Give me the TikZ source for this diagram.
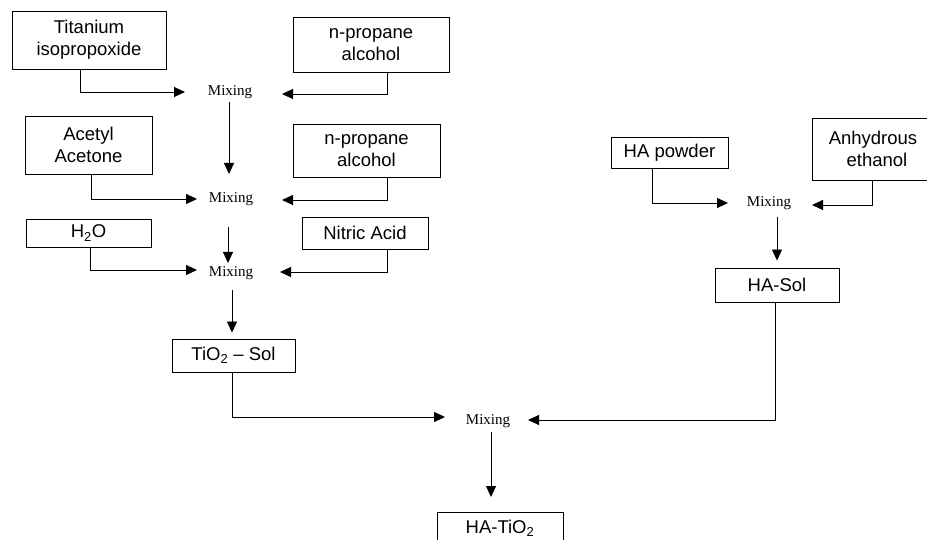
\documentclass[tikz,border=0pt]{standalone}
\usepackage{fontspec}
\setmainfont{Liberation Serif}
\newfontfamily\arialf[Ligatures=TeX]{Liberation Sans}
\usetikzlibrary{arrows.meta}
\tikzset{
  box/.style={draw, line width=0.9pt, inner sep=0pt, align=center,
    font=\arialf\fontsize{18.5}{21.7}\selectfont},
  mix/.style={inner sep=0pt, font=\fontsize{15}{18}\selectfont},
  arr/.style={line width=0.9pt, -{Triangle[length=11pt,width=10pt]}}
}
\begin{document}
\begin{tikzpicture}[x=1pt,y=-1pt]
\useasboundingbox (0,0) rectangle (927,540);
\clip (0,0) rectangle (927,540);
% boxes
\node[box, minimum width=154pt, minimum height=58pt] (ti) at (89,40) {Titanium\\isopropoxide};
\node[box, minimum width=156pt, minimum height=55pt] (np1) at (371,44.5) {n-propane\\alcohol};
\node[box, minimum width=127pt, minimum height=58pt] (aa) at (88.5,145) {Acetyl\\Acetone};
\node[box, minimum width=147pt, minimum height=53pt] (np2) at (366.5,150.5) {n-propane\\alcohol};
\node[box, minimum width=125pt, minimum height=28pt] (h2o) at (88.5,233) {H\textsubscript{2}O};
\node[box, minimum width=126pt, minimum height=32pt] (na) at (365,233) {Nitric Acid};
\node[box, minimum width=123pt, minimum height=33pt] (tio) at (233.5,355.5) {TiO\textsubscript{2} – Sol};
\node[box, minimum width=117pt, minimum height=31pt] (hap) at (669.5,152.5) {HA powder};
\node[box, minimum width=122pt, minimum height=62pt] (ae) at (873,149) {Anhydrous\\\hspace*{8pt}ethanol};
\node[box, minimum width=124pt, minimum height=34pt] (has) at (777,285) {HA-Sol};
\node[box, minimum width=126pt, text height=21pt, text depth=15pt, anchor=north] (hat) at (500,512) {HA-TiO\textsubscript{2}};
% mixing nodes
\node[mix] (m1) at (230,92) {Mixing};
\node[mix] (m2) at (231,199) {Mixing};
\node[mix] (m3) at (231,273) {Mixing};
\node[mix] (m4) at (488,421) {Mixing};
\node[mix] (m5) at (769,203) {Mixing};
% connectors
\draw[arr] ([xshift=-9pt]ti.south) |- ([xshift=-45pt]m1.center);
\draw[arr] ([xshift=16pt]np1.south) |- ([xshift=52pt,yshift=-2pt]m1.center);
\draw[arr] ([xshift=-1pt,yshift=-10pt]m1.center) -- ([xshift=-2pt,yshift=25pt]m2.center);
\draw[arr] ([xshift=2.5pt]aa.south) |- ([xshift=-34pt]m2.center);
\draw[arr] ([xshift=20.5pt]np2.south) |- ([xshift=51pt,yshift=-1pt]m2.center);
\draw[arr] ([xshift=-3pt,yshift=-28pt]m2.center) -- ([xshift=-3pt,yshift=10pt]m3.center);
\draw[arr] ([xshift=1.5pt]h2o.south) |- ([xshift=-34pt,yshift=3pt]m3.center);
\draw[arr] ([xshift=22pt]na.south) |- ([xshift=49pt,yshift=1pt]m3.center);
\draw[arr] ([xshift=1pt,yshift=-17pt]m3.center) -- ([xshift=-1.5pt,yshift=6pt]tio.north);
\draw[arr] ([xshift=-1.5pt]tio.south) |- ([xshift=-43pt,yshift=4pt]m4.center);
\draw[arr] ([xshift=-2pt]has.south) |- ([xshift=40pt,yshift=1pt]m4.center);
\draw[arr] ([xshift=3pt,yshift=-11pt]m4.center) -- ([xshift=-9pt,yshift=15pt]hat.north);
\draw[arr] ([xshift=-17.5pt]hap.south) |- ([xshift=-41pt]m5.center);
\draw[arr] ([xshift=-1pt]ae.south) |- ([xshift=43pt,yshift=-2pt]m5.center);
\draw[arr] ([xshift=8pt,yshift=-14pt]m5.center) -- ([yshift=7pt]has.north);
\end{tikzpicture}
\end{document}
